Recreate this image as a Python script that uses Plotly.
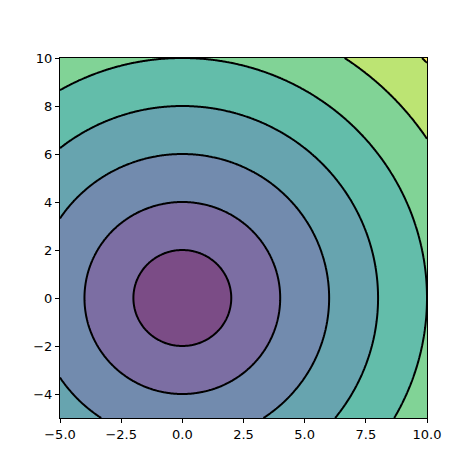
import numpy as np
import plotly.graph_objects as go
from plotly.colors import sample_colorscale

x = np.linspace(-5, 10, 301)
y = np.linspace(-5, 10, 301)
X, Y = np.meshgrid(x, y)
Z = np.sqrt(X**2 + Y**2)

levels_start, levels_end, levels_step = 0, 16, 2
nb = 8
cols = sample_colorscale("Viridis", [i / (nb - 1) for i in range(nb)])
cs = []
for i, c in enumerate(cols):
    cs.append([i / nb, c]); cs.append([(i + 1) / nb, c])

fig = go.Figure()
fig.add_trace(go.Contour(
    x=x, y=y, z=Z, zmin=0, zmax=16, colorscale=cs, opacity=0.7, showscale=False,
    contours=dict(start=levels_start, end=levels_end, size=levels_step, coloring="fill"),
    line=dict(width=0), hoverinfo="skip"))
fig.add_trace(go.Contour(
    x=x, y=y, z=Z, showscale=False,
    contours=dict(start=levels_start + levels_step, end=levels_end, size=levels_step, coloring="lines"),
    colorscale=[[0, "black"], [1, "black"]],
    line=dict(color="black", width=2), hoverinfo="skip"))

ax = dict(showline=True, linecolor="black", linewidth=1, mirror=True, ticks="outside",
          ticklen=4, tickcolor="black", showgrid=False, zeroline=False)
fig.update_xaxes(range=[-5, 10], tickvals=[-5, -2.5, 0, 2.5, 5, 7.5, 10],
                 ticktext=["−5.0", "−2.5", "0.0", "2.5", "5.0", "7.5", "10.0"], **ax)
fig.update_yaxes(range=[-5, 10], tickvals=[-4, -2, 0, 2, 4, 6, 8, 10],
                 ticktext=["−4", "−2", "0", "2", "4", "6", "8", "10"], **ax)
fig.update_layout(width=474, height=474, margin=dict(l=52, r=55, t=50, b=64),
                  paper_bgcolor="white", plot_bgcolor="white",
                  font=dict(family="DejaVu Sans", size=13, color="black"))
fig.write_html("out.html")
